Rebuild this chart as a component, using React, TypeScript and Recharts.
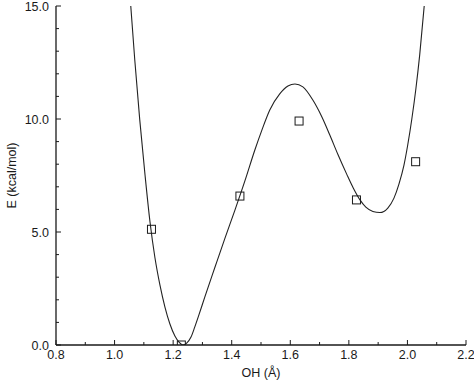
import React from "react";
import { ComposedChart, Line, Scatter, XAxis, YAxis, Label } from "recharts";

const curveX = [1.055, 1.069, 1.086, 1.104, 1.121, 1.138, 1.155, 1.172, 1.189, 1.206, 1.22, 1.233, 1.247, 1.261, 1.274, 1.288, 1.308, 1.343, 1.377, 1.411, 1.445, 1.479, 1.503, 1.53, 1.564, 1.592, 1.616, 1.643, 1.677, 1.708, 1.735, 1.762, 1.793, 1.815, 1.838, 1.858, 1.882, 1.906, 1.933, 1.954, 1.971, 1.988, 2.001, 2.015, 2.029, 2.042, 2.058];
const curveY = [15.05, 12.61, 9.96, 7.52, 5.44, 3.85, 2.65, 1.68, 0.93, 0.4, 0.13, 0.0, 0.09, 0.35, 0.8, 1.33, 2.12, 3.45, 4.73, 5.97, 7.26, 8.63, 9.51, 10.4, 11.11, 11.46, 11.55, 11.42, 10.84, 10.09, 9.29, 8.45, 7.55, 6.95, 6.42, 6.1, 5.91, 5.86, 6.06, 6.5, 7.12, 7.95, 8.85, 10.0, 11.35, 12.85, 15.1];

const pointX = [1.126, 1.228, 1.428, 1.63, 1.826, 2.028];
const pointY = [5.12, 0.0, 6.59, 9.91, 6.42, 8.11];

const xTicks = [0.8, 0.9, 1.0, 1.1, 1.2, 1.3, 1.4, 1.5, 1.6, 1.7, 1.8, 1.9, 2.0, 2.1, 2.2];
const xMajor = [0.8, 1.0, 1.2, 1.4, 1.6, 1.8, 2.0, 2.2];
const yTicks = [0, 1, 2, 3, 4, 5, 6, 7, 8, 9, 10, 11, 12, 13, 14, 15];
const yMajor = [0, 5, 10, 15];

const curveData = curveX.map((x, i) => ({ x, y: curveY[i] }));
const pointData = pointX.map((x, i) => ({ x, y: pointY[i] }));

const FONT = "'Liberation Sans', Arial, Helvetica, sans-serif";
const INK = "#1a1a1a";

const isMajor = (v: number, list: number[]) => list.some((m) => Math.abs(m - v) < 1e-6);

const BottomTick = (props: any) => {
  const { x, y, payload } = props;
  const major = isMajor(payload.value, xMajor);
  return (
    <g>
      <line x1={x} y1={y} x2={x} y2={y - (major ? 5 : 3)} stroke={INK} strokeWidth={1} />
      {major && (
        <text x={x} y={y + 14} textAnchor="middle" fontSize={12.5} fontFamily={FONT} fill={INK}>
          {payload.value.toFixed(1)}
        </text>
      )}
    </g>
  );
};

const TopTick = (props: any) => {
  const { x, y, payload } = props;
  const major = isMajor(payload.value, xMajor);
  return <line x1={x} y1={y} x2={x} y2={y + (major ? 5 : 3)} stroke={INK} strokeWidth={1} />;
};

const LeftTick = (props: any) => {
  const { x, y, payload } = props;
  const major = isMajor(payload.value, yMajor);
  return (
    <g>
      <line x1={x} y1={y} x2={x + (major ? 5 : 3)} y2={y} stroke={INK} strokeWidth={1} />
      {major && (
        <text x={x - 7} y={y} dy="0.36em" textAnchor="end" fontSize={12.5} fontFamily={FONT} fill={INK}>
          {payload.value.toFixed(1)}
        </text>
      )}
    </g>
  );
};

const RightTick = (props: any) => {
  const { x, y, payload } = props;
  const major = isMajor(payload.value, yMajor);
  return <line x1={x} y1={y} x2={x - (major ? 5 : 3)} y2={y} stroke={INK} strokeWidth={1} />;
};

const Square = (props: any) => {
  const { cx, cy } = props;
  if (cx == null || cy == null) return null;
  return <rect x={cx - 4} y={cy - 4} width={8} height={8} fill="none" stroke={INK} strokeWidth={1} />;
};

export default function App() {
  return (
    <div style={{ position: "absolute", left: 0, top: 0, background: "#fff" }}>
      <ComposedChart width={474} height={381} margin={{ top: 6, right: 8, bottom: 0, left: 0 }}>
        <XAxis
          xAxisId="b"
          type="number"
          dataKey="x"
          domain={[0.8, 2.2]}
          ticks={xTicks}
          allowDataOverflow
          height={36}
          tickSize={0}
          tickMargin={0}
          tickLine={false}
          tick={<BottomTick />}
          axisLine={{ stroke: INK, strokeWidth: 1.3 }}
          interval={0}
        >
          <Label
            content={(p: any) => {
              const vb = p.viewBox;
              return (
                <text x={vb.x + vb.width / 2} y={vb.y + 32} textAnchor="middle" fontSize={12.5} fontFamily={FONT} fill={INK}>
                  OH (Å)
                </text>
              );
            }}
          />
        </XAxis>
        <XAxis
          xAxisId="t"
          orientation="top"
          type="number"
          dataKey="x"
          domain={[0.8, 2.2]}
          ticks={xTicks}
          allowDataOverflow
          height={0}
          tickSize={0}
          tickMargin={0}
          tickLine={false}
          tick={<TopTick />}
          axisLine={{ stroke: INK, strokeWidth: 1.3 }}
          interval={0}
        />
        <YAxis
          yAxisId="l"
          type="number"
          dataKey="y"
          domain={[0, 15]}
          ticks={yTicks}
          allowDataOverflow
          width={56}
          tickSize={0}
          tickMargin={0}
          tickLine={false}
          tick={<LeftTick />}
          axisLine={{ stroke: INK, strokeWidth: 1.3 }}
          interval={0}
        >
          <Label
            content={(p: any) => {
              const vb = p.viewBox;
              const cx = 11;
              const cy = vb.y + vb.height / 2;
              return (
                <text x={cx} y={cy} transform={`rotate(-90 ${cx} ${cy})`} dy="0.36em" textAnchor="middle" fontSize={12.5} fontFamily={FONT} fill={INK}>
                  E (kcal/mol)
                </text>
              );
            }}
          />
        </YAxis>
        <YAxis
          yAxisId="r"
          orientation="right"
          type="number"
          dataKey="y"
          domain={[0, 15]}
          ticks={yTicks}
          allowDataOverflow
          width={0}
          tickSize={0}
          tickMargin={0}
          tickLine={false}
          tick={<RightTick />}
          axisLine={{ stroke: INK, strokeWidth: 1.3 }}
          interval={0}
        />
        <Line
          xAxisId="b"
          yAxisId="l"
          data={curveData}
          dataKey="y"
          type="monotone"
          stroke="#222"
          strokeWidth={1.1}
          dot={false}
          activeDot={false}
          isAnimationActive={false}
        />
        <Scatter
          xAxisId="b"
          yAxisId="l"
          data={pointData}
          dataKey="y"
          shape={<Square />}
          isAnimationActive={false}
        />
      </ComposedChart>
    </div>
  );
}
